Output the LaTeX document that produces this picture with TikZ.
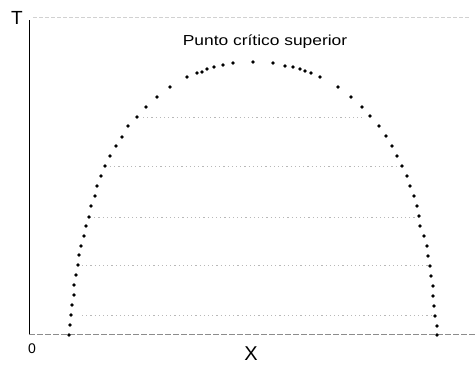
\documentclass[tikz,border=0pt]{standalone}
\usepackage{fontspec}
\setmainfont{Liberation Sans}
\usepackage{tikz}
\usetikzlibrary{positioning}

\begin{document}
\begin{tikzpicture}[x=1pt,y=-1pt,
 axis/.style={black,line width=1pt},
 base/.style={black!45,line width=1pt,dash pattern=on 6pt off 2pt},
 tie/.style={black!28,line width=1pt,dash pattern=on 1.2pt off 3pt},
 dotpt/.style={black},
 lbl/.style={inner sep=0pt,font=\fontsize{13}{15}\selectfont}]
\useasboundingbox (0,0) rectangle (476,365);
\coordinate (origin) at (29,334);
\coordinate (ytop) at (29,20);
\coordinate (xend) at (476,334);
\coordinate (topl) at (33,17);
\coordinate (topr) at (470,17);
% axes and frame line
\draw[black!18,line width=1pt,dash pattern=on 4pt off 2pt] (topl) -- (topr);
\draw[base] (origin) -- (xend);
\draw[axis] (origin) -- (ytop);
\node[lbl,font=\fontsize{19}{21}\selectfont] (lblT) at (17,18) {T};
\node[lbl,font=\fontsize{14}{16}\selectfont] (lblO) at (32,349) {0};
\node[lbl,font=\fontsize{20}{22}\selectfont] (lblX) at (251,354) {X};
\node[lbl,font=\fontsize{14.5}{16}\selectfont] (crit) at (265,42)
  {\scalebox{1.2}[1]{Punto crítico superior}};
% tie lines
\foreach \yy/\xa/\xb in {117/143/362,166/110/400,217/90/418,265/82/428,315/82/435}
  \draw[tie] (\xa,\yy) -- (\xb,\yy);
% binodal curve
\foreach \px/\py in {69/335,70/325,71/315,72/305,74/295,74/285,76/275,78/265,79/255,
  81/246,84/236,86/226,89/217,91/206,95/196,97/186,101/176,105/166,110/156,116/146,
  122/137,128/126,137/117,146/107,157/97,170/87,187/77,197/73,202/72,207/69,214/67,
  223/65,233/63,253/62,273/63,285/66,293/67,300/69,305/71,311/73,320/77,338/87,
  351/97,362/107,370/116,379/126,386/136,392/146,397/156,402/166,407/176,410/186,
  414/196,417/206,419/216,420/226,424/236,427/246,428/256,430/266,431/276,433/286,
  433/296,434/306,435/316,437/326,437/335}
  \fill[dotpt] (\px,\py) circle (1.9);
\end{tikzpicture}
\end{document}
